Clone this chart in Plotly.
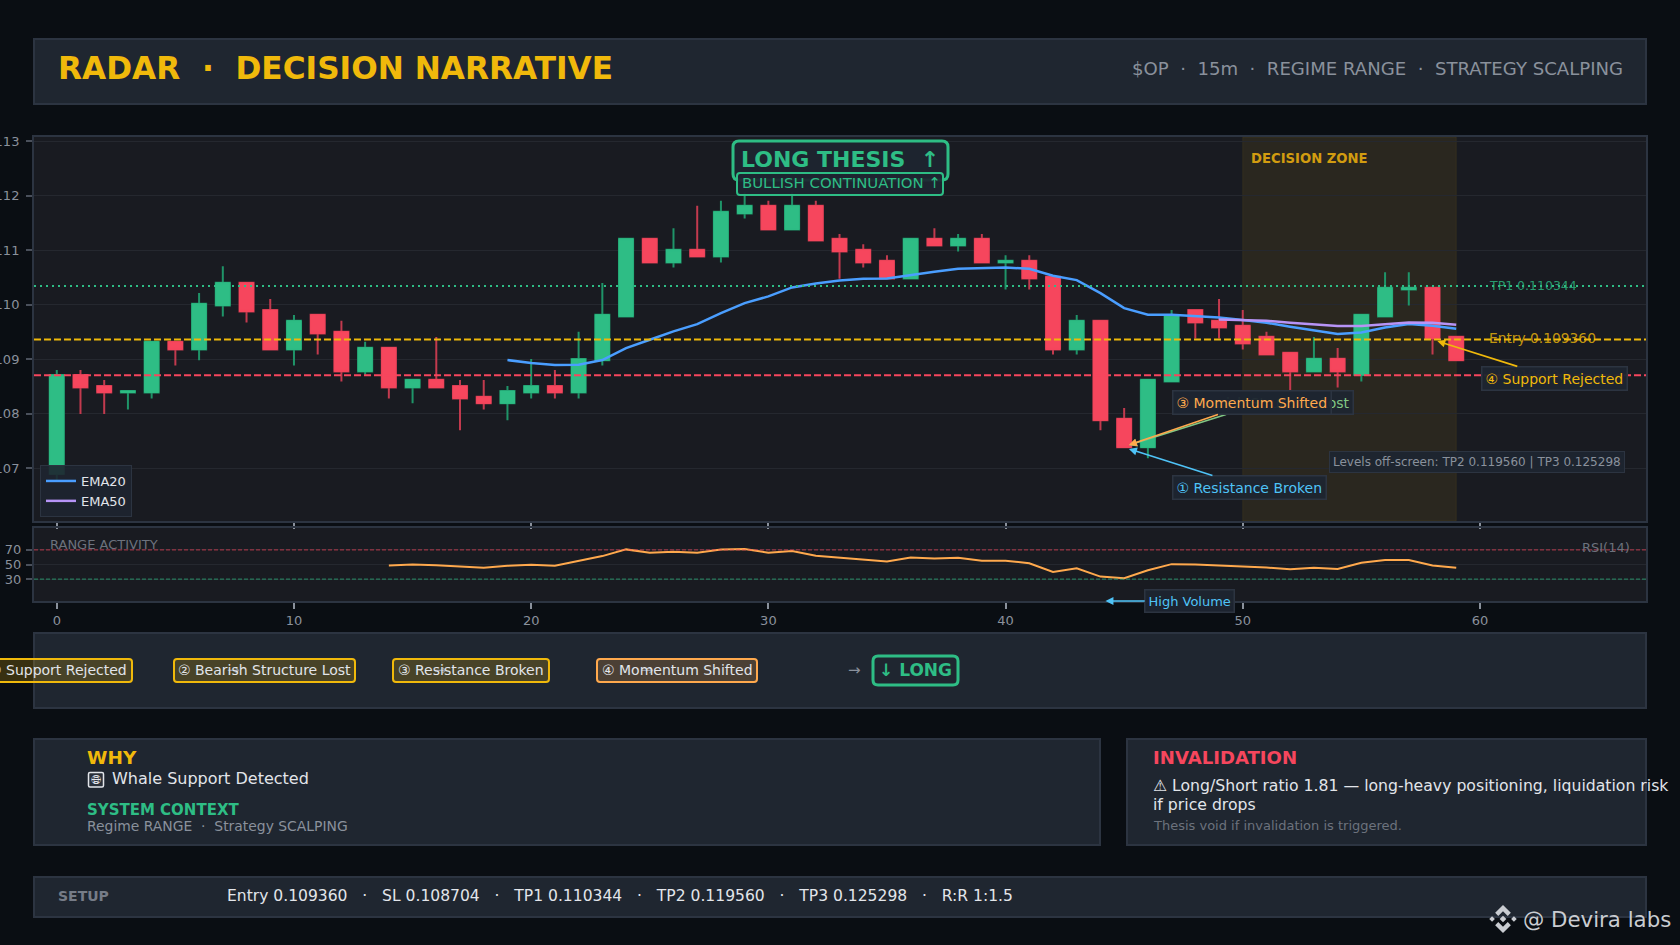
import plotly.graph_objects as go

W, H = 1680, 945

# candles
opens = [.106893, .108710, .108508, .108391, .108391, .109321, .109180, .109988, .110404, .109902,
         .109180, .109817, .109505, .108777, .109211, .108483, .108624, .108508, .108312, .108190,
         .108391, .108508, .108391, .108979, .109786, .111211, .110777, .111009, .110887, .111676,
         .111817, .111382, .111817, .111211, .111009, .110807, .110483, .111211, .111089, .111211,
         .110777, .110807, .110514, .109180, .109706, .107908, .107382, .108593, .109902, .109706,
         .109615, .109413, .109119, .108777, .109009, .108710, .109786, .110281, .110312, .109413]
highs = [.108801, .108801, .108618, .108416, .109321, .109321, .110214, .110709, .110404, .110104,
         .109810, .109817, .109706, .109321, .109211, .108624, .109407, .108618, .108618, .108508,
         .109003, .108801, .109505, .110398, .111211, .111211, .111407, .111817, .111908, .112061,
         .111908, .112061, .111908, .111297, .111113, .110911, .111211, .111407, .111297, .111297,
         .110911, .110911, .110514, .109810, .109706, .108104, .108624, .109902, .109902, .110104,
         .109902, .109505, .109119, .109407, .109205, .109817, .110599, .110599, .110312, .109413]
lows = [.106771, .107994, .107994, .108079, .108281, .108887, .108979, .109786, .109676, .109180,
        .108887, .109089, .108593, .108716, .108281, .108190, .108483, .107694, .108079, .107878,
        .108281, .108281, .108281, .108887, .109786, .110777, .110685, .110887, .110777, .111584,
        .111382, .111382, .111180, .110477, .110685, .110483, .110483, .111089, .110979, .110777,
        .110281, .110281, .109089, .109089, .107694, .107382, .107180, .108593, .109382, .109382,
        .109180, .109089, .108391, .108777, .108483, .108593, .109786, .109988, .109089, .108979]
closes = [.108710, .108483, .108391, .108416, .109321, .109180, .110018, .110404, .109878, .109180,
          .109706, .109474, .108777, .109211, .108483, .108624, .108483, .108281, .108190, .108416,
          .108508, .108391, .109003, .109817, .111211, .110777, .111009, .110887, .111706, .111817,
          .111382, .111817, .111180, .110979, .110777, .110483, .111211, .111089, .111211, .110777,
          .110807, .110483, .109180, .109706, .107878, .107382, .108624, .109798, .109676, .109584,
          .109291, .109089, .108777, .109009, .108777, .109817, .110312, .110312, .109382, .108979]

ema20 = [.108985, .108930, .108893, .108899, .108985, .109205, .109358, .109511, .109645, .109847,
         .110031, .110153, .110318, .110391, .110446, .110477, .110483, .110550, .110606, .110661,
         .110679, .110685, .110661, .110532, .110453, .110214, .109939, .109817, .109817, .109798,
         .109768, .109719, .109670, .109596, .109523, .109462, .109492, .109584, .109645, .109615,
         .109560]
ema50 = [.109731, .109719, .109706, .109670, .109639, .109609, .109609, .109645, .109676, .109670,
         .109633]
rsi = [48.6, 50, 49.1, 46.8, 45.4, 48.2, 49.5, 48.2, 54.6, 61.5, 70.7, 66.1, 67.5, 66.1, 70.7, 71.1,
       66.1, 68.4, 62, 59.7, 57.4, 54.1, 59.7, 58.3, 59.2, 55.1, 55.1, 51.8, 39.9, 44.9, 33.4, 31.1,
       42.2, 50.5, 50, 49.1, 47.2, 45.9, 43.6, 45.4, 44, 52.3, 56, 56, 48.6, 45.4]

ENTRY, SL, TP1 = 0.109360, 0.108704, 0.110344

# colours
BG = '#0a0e13'
PANEL = '#1f2630'
EDGE = '#2c3441'
PLOT = '#191b21'
GRID = '#25282f'
GREEN = '#2ebd85'
GREEN_W = '#1f9468'
RED = '#f6465d'
RED_W = '#c23a4e'
AMBER = '#f0b90b'
ORANGE = '#ffa94d'
CYAN = '#4fc3f7'
BLUE = '#4a9eff'
PURPLE = '#b794f6'
MUTED = '#8a919c'
LIGHT = '#e2e5ea'
FONT = 'DejaVu Sans'


def X(v):
    return v / W


def Y(v):
    return 1 - v / H


def rounded(x0, y0, x1, y1, r):
    # rounded box as an svg path in paper coordinates
    return (f'M {X(x0 + r)} {Y(y0)} L {X(x1 - r)} {Y(y0)} Q {X(x1)} {Y(y0)} {X(x1)} {Y(y0 + r)} '
            f'L {X(x1)} {Y(y1 - r)} Q {X(x1)} {Y(y1)} {X(x1 - r)} {Y(y1)} '
            f'L {X(x0 + r)} {Y(y1)} Q {X(x0)} {Y(y1)} {X(x0)} {Y(y1 - r)} '
            f'L {X(x0)} {Y(y0 + r)} Q {X(x0)} {Y(y0)} {X(x0 + r)} {Y(y0)} Z')


fig = go.Figure()

# candles: wicks first, then bodies on top in the brighter colour
xs = list(range(len(opens)))
fig.add_trace(go.Candlestick(
    x=xs, open=opens, high=highs, low=lows, close=closes, showlegend=False, whiskerwidth=0,
    increasing=dict(line=dict(color=GREEN_W, width=2), fillcolor=GREEN),
    decreasing=dict(line=dict(color=RED_W, width=2), fillcolor=RED)))
fig.add_trace(go.Candlestick(
    x=xs, open=opens, close=closes, showlegend=False, whiskerwidth=0,
    high=[max(a, b) for a, b in zip(opens, closes)],
    low=[min(a, b) for a, b in zip(opens, closes)],
    increasing=dict(line=dict(color=GREEN, width=1), fillcolor=GREEN),
    decreasing=dict(line=dict(color=RED, width=1), fillcolor=RED)))

fig.add_trace(go.Scatter(x=list(range(19, 60)), y=ema20, mode='lines', name='EMA20',
                         line=dict(color=BLUE, width=2.5)))
fig.add_trace(go.Scatter(x=list(range(49, 60)), y=ema50, mode='lines', name='EMA50',
                         line=dict(color=PURPLE, width=2.5)))
fig.add_trace(go.Scatter(x=list(range(14, 60)), y=rsi, mode='lines', showlegend=False,
                         line=dict(color=ORANGE, width=2), xaxis='x2', yaxis='y2'))

# panels
for x0, y0, x1, y1 in [(34, 39, 1646, 104), (34, 633, 1646, 708), (34, 739, 1100, 845),
                       (1127, 739, 1646, 845), (34, 877, 1646, 917)]:
    fig.add_shape(type='rect', xref='paper', yref='paper', x0=X(x0), x1=X(x1), y0=Y(y0), y1=Y(y1),
                  fillcolor=PANEL, line=dict(color=EDGE, width=2), layer='below')

# decision zone
fig.add_shape(type='rect', xref='x', yref='y domain', x0=50, x1=59, y0=0, y1=1, layer='below',
              fillcolor='rgba(240,185,11,0.08)', line=dict(color='rgba(240,185,11,0.08)', width=1))

# levels
fig.add_shape(type='line', xref='x domain', yref='y', x0=0, x1=1, y0=TP1, y1=TP1,
              line=dict(color=GREEN, width=2, dash='2px,4px'))
fig.add_shape(type='line', xref='x domain', yref='y', x0=0, x1=1, y0=ENTRY, y1=ENTRY,
              line=dict(color=AMBER, width=2, dash='7px,3px'))
fig.add_shape(type='line', xref='x domain', yref='y', x0=0, x1=1, y0=SL, y1=SL,
              line=dict(color=RED, width=2, dash='7px,3px'))
fig.add_shape(type='line', xref='x2 domain', yref='y2', x0=0, x1=1, y0=70, y1=70,
              line=dict(color='rgba(246,70,93,0.7)', width=1, dash='4px,2px'))
fig.add_shape(type='line', xref='x2 domain', yref='y2', x0=0, x1=1, y0=30, y1=30,
              line=dict(color='rgba(46,189,133,0.7)', width=1, dash='4px,2px'))

# thesis boxes
fig.add_shape(type='path', xref='paper', yref='paper', path=rounded(733, 141, 948, 180, 6),
              fillcolor='rgba(30,37,48,0.95)', line=dict(color=GREEN, width=3))
fig.add_shape(type='path', xref='paper', yref='paper', path=rounded(737, 173, 943, 195, 3),
              fillcolor='rgba(30,37,48,0.93)', line=dict(color=GREEN, width=2))

# chain chips
chips = [('① Support Rejected', -17, 132, AMBER, 'rgba(240,185,11,0.2)'),
         ('② Bearish Structure Lost', 174, 355, AMBER, 'rgba(240,185,11,0.2)'),
         ('③ Resistance Broken', 393, 549, AMBER, 'rgba(240,185,11,0.2)'),
         ('④ Momentum Shifted', 597, 757, ORANGE, 'rgba(255,169,77,0.2)')]
for label, x0, x1, col, fill in chips:
    fig.add_shape(type='path', xref='paper', yref='paper', path=rounded(x0, 659, x1, 682, 3),
                  fillcolor=fill, line=dict(color=col, width=2))
fig.add_shape(type='path', xref='paper', yref='paper', path=rounded(873, 656, 958, 685, 5),
              fillcolor=PANEL, line=dict(color=GREEN, width=3))

# frame round the icon in the WHY panel
fig.add_shape(type='path', xref='paper', yref='paper', path=rounded(88.5, 772.5, 103.5, 787, 1.5),
              fillcolor='#2a303a', line=dict(color=LIGHT, width=1.5))

# logo
LOGO = '#c9ccd1'
cx, cy, R = 1503, 919, 14


def poly(pts):
    return 'M ' + ' L '.join(f'{X(cx + a * R)} {Y(cy + b * R)}' for a, b in pts) + ' Z'


for pts in [[(0, -1), (.56, -.44), (.34, -.22), (0, -.56), (-.34, -.22), (-.56, -.44)],
            [(0, 1), (.56, .44), (.34, .22), (0, .56), (-.34, .22), (-.56, .44)],
            [(0, -.24), (.24, 0), (0, .24), (-.24, 0)],
            [(-.78, -.2), (-.58, 0), (-.78, .2), (-.98, 0)],
            [(.78, -.2), (.98, 0), (.78, .2), (.58, 0)]]:
    fig.add_shape(type='path', xref='paper', yref='paper', path=poly(pts), fillcolor=LOGO,
                  line=dict(width=0))


def txt(x, y, text, size, color, anchor='left', bold=False):
    fig.add_annotation(xref='paper', yref='paper', x=X(x), y=Y(y), text=f'<b>{text}</b>' if bold else text,
                       showarrow=False, xanchor=anchor, yanchor='middle', borderpad=0,
                       font=dict(family=FONT, size=size, color=color))


txt(57, 68, 'RADAR  ·  DECISION NARRATIVE', 31.2, AMBER, bold=True)
txt(1624, 69, '$OP  ·  15m  ·  REGIME RANGE  ·  STRATEGY SCALPING', 18.1, MUTED, anchor='right')

txt(840, 159, 'LONG THESIS  ↑', 22, GREEN, anchor='center', bold=True)
txt(841, 183, 'BULLISH CONTINUATION ↑', 14.9, GREEN, anchor='center')
txt(1250, 158, 'DECISION ZONE', 13.2, '#d29c10', bold=True)

txt(1488, 285, 'TP1 0.110344', 12.5, 'rgba(46,189,133,0.8)')
txt(1488, 338, 'Entry 0.109360', 13.8, 'rgba(240,185,11,0.8)')
txt(1488, 374, 'SL 0.108704', 12.5, 'rgba(246,70,93,0.6)')

txt(49, 544, 'RANGE ACTIVITY', 13, '#6c727d')
txt(1631, 547, 'RSI(14)', 13, '#6c727d', anchor='right')

# callouts on the chart
BOX = 'rgba(30,37,48,0.95)'


def callout(x, y, ax, ay, text, color, xref='x', yref='y', size=14):
    fig.add_annotation(x=x, y=y, xref=xref, yref=yref, ax=ax, ay=ay, text=text, showarrow=True,
                       arrowhead=2, arrowsize=1, arrowwidth=1.6, arrowcolor=color, standoff=5,
                       bgcolor=BOX, bordercolor=EDGE, borderwidth=1.5, borderpad=3,
                       font=dict(family=FONT, size=size, color=color))


callout(45, .107395, 139, -44, '② Bearish Structure Lost', '#81c784')
callout(45, .107395, 128, -44, '③ Momentum Shifted', ORANGE)
callout(45, .107382, 125, 40, '① Resistance Broken', CYAN)
callout(58, ENTRY, 122, 38.5, '④ Support Rejected', AMBER)
callout(44, 0, 89, 0, 'High Volume', CYAN, xref='x2', yref='y2', size=13)

fig.add_annotation(xref='paper', yref='paper', x=X(1476.5), y=Y(462), showarrow=False, xanchor='center',
                   text='Levels off-screen: TP2 0.119560 | TP3 0.125298', bgcolor=BOX, bordercolor=EDGE,
                   borderwidth=1, borderpad=3, font=dict(family=FONT, size=12, color=MUTED))

# chain row
for ax_x in [233, 440, 647, 854]:
    txt(ax_x, 670, '→', 15, MUTED, anchor='center')
for (label, x0, x1, col, fill) in chips:
    txt((x0 + x1) / 2, 670, label, 14, LIGHT, anchor='center')
txt(915.5, 670, '↓ LONG', 17, GREEN, anchor='center', bold=True)

# bottom panels
txt(86, 757, 'WHY', 18.5, AMBER, bold=True)
txt(96, 779.5, '🌐\ufe0e', 13, LIGHT, anchor='center')
txt(110.5, 778, 'Whale Support Detected', 16, LIGHT)
txt(86, 810, 'SYSTEM CONTEXT', 15, GREEN, bold=True)
txt(86, 826, 'Regime RANGE  ·  Strategy SCALPING', 13.9, MUTED)

txt(1152, 757, 'INVALIDATION', 18.1, RED, bold=True)
txt(1152, 785, '⚠ Long/Short ratio 1.81 — long-heavy positioning, liquidation risk', 15.7, LIGHT)
txt(1152, 804, 'if price drops', 15.7, LIGHT)
txt(1152, 825, 'Thesis void if invalidation is triggered.', 13, '#6c727d')

txt(57, 896, 'SETUP', 14, '#767c87', bold=True)
txt(226, 896, 'Entry 0.109360   ·   SL 0.108704   ·   TP1 0.110344   ·   TP2 0.119560   ·   TP3 0.125298   ·   R:R 1:1.5',
    15.55, LIGHT)

txt(1522, 919, '@ Devira labs', 21.3, LOGO)

tick = dict(family=FONT, size=13, color=MUTED)
fig.update_layout(
    width=W, height=H, margin=dict(l=0, r=0, t=0, b=0), autosize=False,
    paper_bgcolor=BG, plot_bgcolor=PLOT, boxgap=0.15,
    font=dict(family=FONT),
    legend=dict(x=X(40), y=Y(517), xanchor='left', yanchor='bottom', bgcolor='rgba(30,37,48,0.9)',
                bordercolor=EDGE, borderwidth=1, font=dict(family=FONT, size=13, color=LIGHT)),
    xaxis=dict(domain=[X(34), X(1646)], range=[-0.96, 67], tick0=0, dtick=10, showgrid=False, zeroline=False,
               showticklabels=False, ticks='outside', ticklen=6, tickcolor=MUTED, tickwidth=1.5,
               linecolor=EDGE, linewidth=2, mirror=True, rangeslider=dict(visible=False), anchor='y'),
    yaxis=dict(domain=[Y(521), Y(137)], range=[0.10603, 0.11308], dtick=0.001, tickformat='.3f',
               gridcolor=GRID, zeroline=False, ticks='outside', ticklen=6, tickcolor='#4a505b', tickwidth=1.5,
               ticklabelstandoff=4, tickfont=tick, linecolor=EDGE, linewidth=2, mirror=True,
               automargin=False, anchor='x'),
    xaxis2=dict(domain=[X(34), X(1646)], range=[-0.96, 67], tick0=0, dtick=10, showgrid=False, zeroline=False,
                ticks='outside', ticklen=6, tickcolor=MUTED, tickwidth=1.5, tickfont=tick,
                linecolor=EDGE, linewidth=2, mirror=True, anchor='y2', automargin=False),
    yaxis2=dict(domain=[Y(601), Y(528)], range=[0, 100], tickvals=[30, 50, 70], gridcolor=GRID, zeroline=False,
                ticks='outside', ticklen=6, tickcolor='#4a505b', tickwidth=1.5, tickfont=tick,
                ticklabelstandoff=2, linecolor=EDGE, linewidth=2, mirror=True, anchor='x2', automargin=False),
)

# the page's default body margin would push the figure off the window
fig.write_html("out.html", config={'displayModeBar': False},
               post_script="document.body.style.margin='0';document.body.style.overflow='hidden';")
